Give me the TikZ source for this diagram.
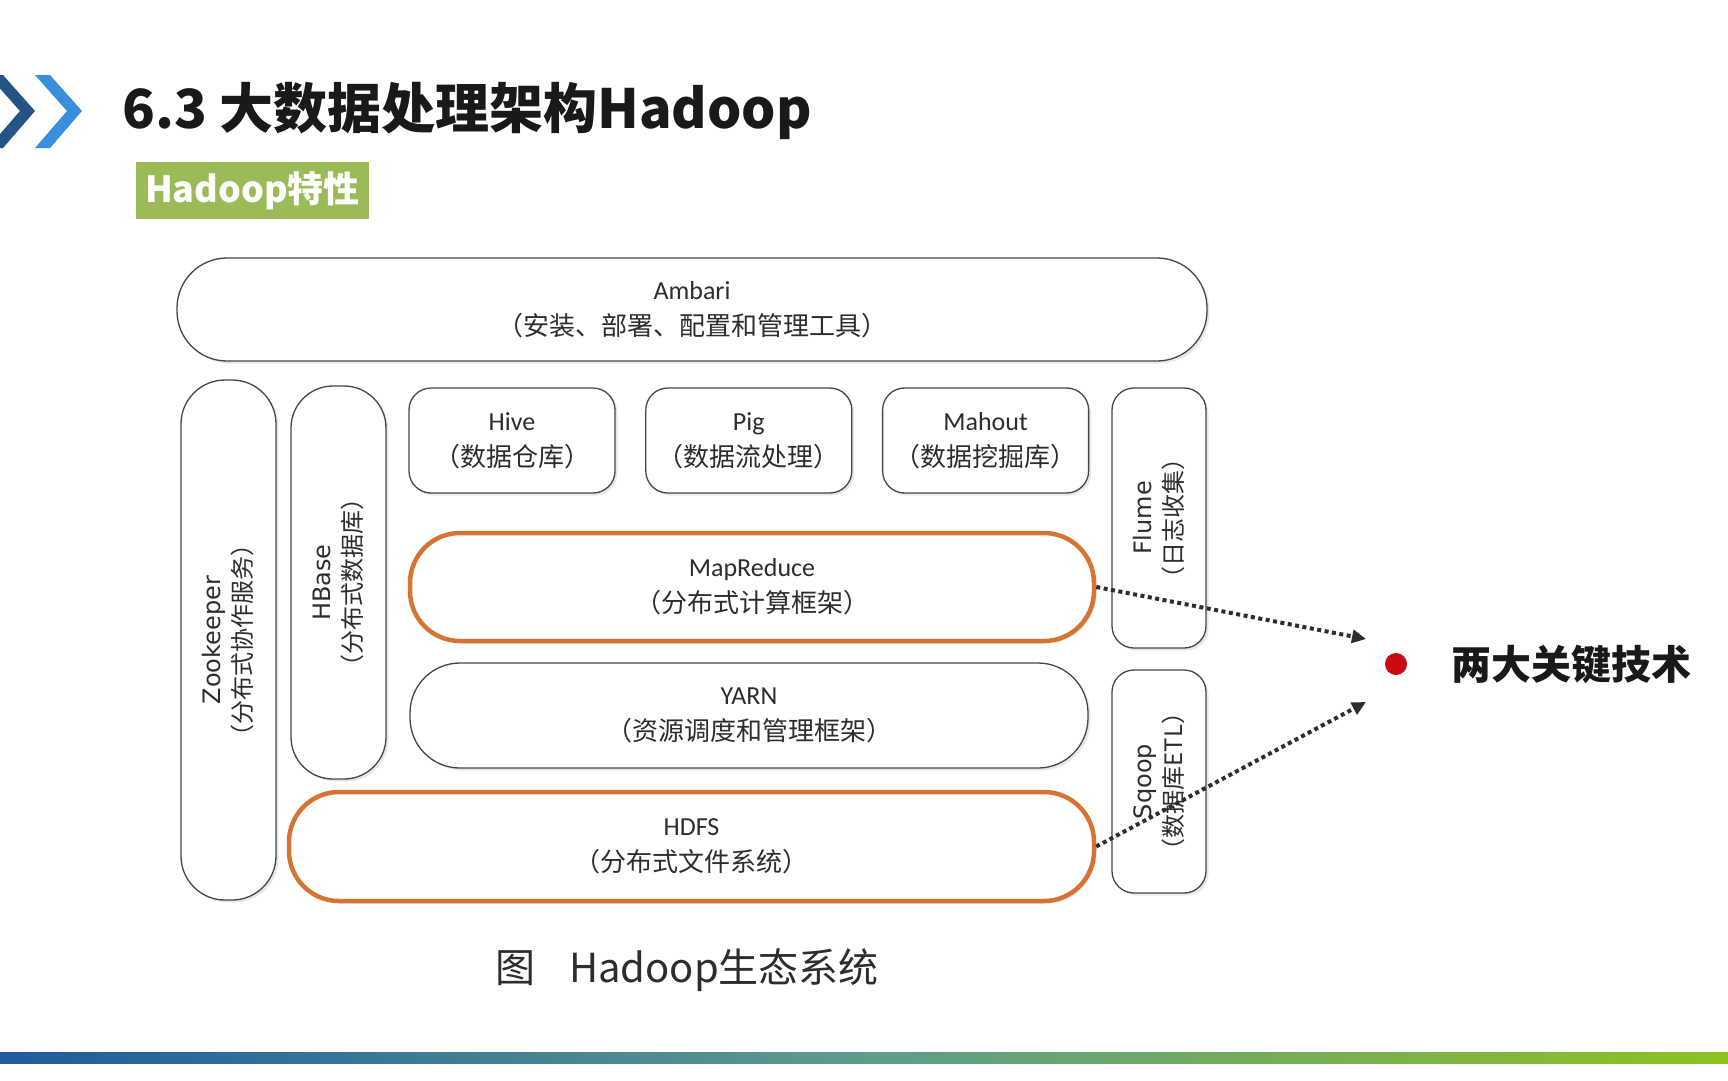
\documentclass[tikz,border=0pt]{standalone}
\usepackage{fontspec}
\setmainfont{Carlito}
\newfontfamily\cjk{Noto Sans CJK SC}
\newfontfamily\vlat{DejaVu Sans}
\usetikzlibrary{positioning, shadows, arrows.meta}

\definecolor{edgegray}{RGB}{70,70,70}
\definecolor{textgray}{RGB}{45,45,45}
\definecolor{keyorange}{RGB}{214,116,52}
\definecolor{labelgreen}{RGB}{155,187,89}
\definecolor{chevdark}{RGB}{36,84,134}
\definecolor{chevlight}{RGB}{58,142,222}
\definecolor{dotred}{RGB}{200,10,20}
\definecolor{barblue}{RGB}{30,92,158}
\definecolor{barteal}{RGB}{95,155,140}
\definecolor{bargreen}{RGB}{141,194,32}

\begin{document}
\begin{tikzpicture}[x=1pt, y=1pt, >={Triangle[length=14pt, width=13pt]}]
        \tikzstyle{box} = [rectangle, draw=edgegray, line width=1.3pt, fill=white, text=textgray, align=center, inner sep=0pt, font=\fontsize{26}{36}\selectfont, drop shadow={shadow xshift=2.5pt, shadow yshift=-2.5pt, opacity=0.18}]
        \tikzstyle{pill_box} = [box, rounded corners=50pt]
        \tikzstyle{app_box} = [box, rounded corners=22pt, minimum width=206pt, minimum height=105pt]
        \tikzstyle{tall_box} = [box, rotate=90, rounded corners=44pt, minimum height=95pt, font=\fontsize{24}{31}\selectfont]
        \tikzstyle{side_box} = [box, rotate=90, rounded corners=22pt, minimum height=94pt, font=\fontsize{24}{31}\selectfont]
        \tikzstyle{key_box} = [pill_box, draw=keyorange, line width=4.5pt]
        \tikzstyle{link} = [->, draw=textgray, line width=4pt, dash pattern=on 4pt off 3.5pt]

        \useasboundingbox[fill=white] (0,0) rectangle (1728,-1080);

        % header
        \fill[chevdark] (-12,-75) -- (3,-75) -- (35,-111) -- (3,-148) -- (-12,-148) -- (20,-111) -- cycle;
        \fill[chevlight] (35,-75) -- (50,-75) -- (82,-111) -- (50,-148) -- (35,-148) -- (67,-111) -- cycle;
        \node [anchor=west, inner sep=0pt, font=\cjk\bfseries\fontsize{54}{60}\selectfont, text=black!90] (title) at (122,-111) {6.3 大数据处理架构Hadoop};
        \node [fill=labelgreen, text=white, minimum width=233pt, minimum height=57pt, inner sep=0pt, font=\cjk\bfseries\fontsize{36}{40}\selectfont] (feature) at (252.5,-190.5) {Hadoop特性};

        % ecosystem boxes
        \node [pill_box, minimum width=1030pt, minimum height=103pt] (ambari) at (692,-309.5) {Ambari\\{\cjk（安装、部署、配置和管理工具）}};

        \node [tall_box, minimum width=520pt] (zookeeper) at (228.5,-640) {{\vlat Zookeeper}\\{\cjk（分布式协作服务）}};
        \node [tall_box, minimum width=393pt, rounded corners=42pt] (hbase) at (338.5,-582.5) {{\vlat HBase}\\{\cjk（分布式数据库）}};

        \node [app_box] (hive) at (512,-440.5) {Hive\\{\cjk（数据仓库）}};
        \node [app_box, right=29.5pt of hive] (pig) {Pig\\{\cjk（数据流处理）}};
        \node [app_box, right=29.5pt of pig] (mahout) {Mahout\\{\cjk（数据挖掘库）}};

        \node [side_box, minimum width=260pt] (flume) at (1159,-518) {{\vlat Flume}\\{\cjk（日志收集）}};
        \node [side_box, minimum width=223pt] (sqoop) at (1159,-781.5) {{\vlat Sqoop}\\{\cjk（数据库ETL）}};

        \node [key_box, minimum width=684pt, minimum height=108pt] (mapreduce) at (752,-587) {MapReduce\\{\cjk（分布式计算框架）}};
        \node [pill_box, minimum width=678pt, minimum height=105pt] (yarn) at (749,-715.5) {YARN\\{\cjk（资源调度和管理框架）}};
        \node [key_box, minimum width=805pt, minimum height=109pt] (hdfs) at (691.5,-846.5) {HDFS\\{\cjk（分布式文件系统）}};

        % key technologies
        \node [circle, fill=dotred, minimum size=22pt, inner sep=0pt] (dot) at (1396,-664) {};
        \node [right=44pt of dot, inner sep=0pt, font=\cjk\bfseries\fontsize{40}{44}\selectfont, text=black!90] (keytech) {两大关键技术};
        \coordinate (tipmr) at (1366,-639);
        \coordinate (tiphdfs) at (1366,-702);

        \draw [link] (mapreduce.east) -- (tipmr);
        \draw [link] (hdfs.east) -- (tiphdfs);

        \node [font=\cjk\fontsize{40}{44}\selectfont, text=textgray] (caption) at (687,-970) {图\hspace{34pt}Hadoop生态系统};

        \shade [left color=barblue, right color=bargreen, middle color=barteal] (0,-1052) rectangle (1728,-1063);

    \end{tikzpicture}
\end{document}
